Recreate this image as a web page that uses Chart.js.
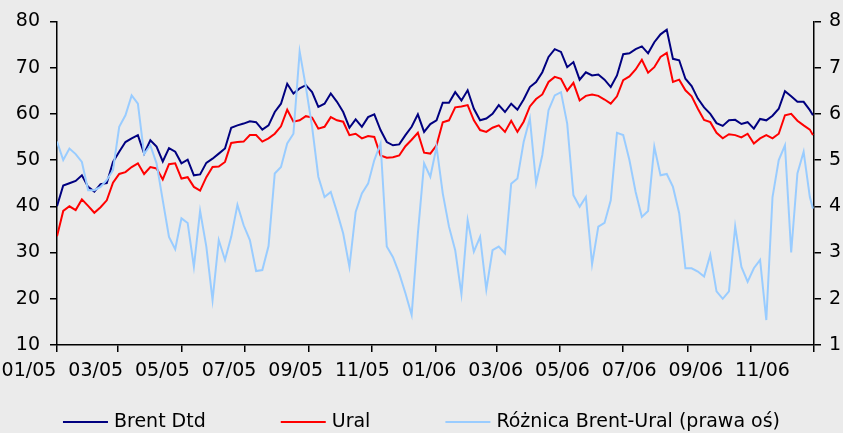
<!DOCTYPE html>
<html lang="pl">
<head>
<meta charset="utf-8">
<title>Brent Dtd / Ural</title>
<script src="https://cdn.jsdelivr.net/npm/chart.js@4.4.1/dist/chart.umd.min.js"></script>
<style>
  html, body { margin: 0; padding: 0; background: #ebebeb; }
  #wrap { width: 843px; height: 433px; position: relative; }
</style>
</head>
<body>
<div id="wrap"><canvas id="chart"></canvas></div>
<script>
// dni od 01.01.2005 (co ok. tydzień)
const days = [
  0, 6, 12, 18, 24, 30, 36, 42, 48, 54, 60, 66, 72, 78, 84, 90, 96, 102, 108, 114,
  120, 126, 132, 138, 144, 150, 156, 162, 168, 174, 180, 186, 192, 198, 204, 210, 216, 222, 228, 234,
  240, 246, 252, 258, 264, 270, 276, 282, 288, 294, 300, 306, 312, 318, 324, 330, 336, 342, 348, 354,
  360, 366, 372, 378, 384, 390, 396, 402, 408, 414, 420, 426, 432, 438, 444, 450, 456, 462, 468, 474,
  480, 486, 492, 498, 504, 510, 516, 522, 528, 534, 540, 546, 552, 558, 564, 570, 576, 582, 588, 594,
  600, 606, 612, 618, 624, 630, 636, 642, 648, 654, 660, 666, 672, 678, 684, 690, 696, 702, 708, 714,
  720, 726, 729
];

// USD/bbl
const brent = [
  40, 44.5, 45, 45.5, 46.7, 44.2, 43.2, 44.8, 45, 49.6, 51.8, 53.9, 54.7, 55.4, 51.4, 54.3, 52.9, 49.7, 52.6, 51.8,
  49.3, 50.1, 46.7, 46.9, 49.4, 50.3, 51.4, 52.5, 57, 57.5, 57.9, 58.4, 58.2, 56.6, 57.5, 60.4, 62.2, 66.5, 64.4, 65.5,
  66.2, 64.7, 61.5, 62.2, 64.4, 62.6, 60.4, 57, 58.8, 57.2, 59.3, 59.9, 56.5, 53.9, 53.2, 53.4, 55.4, 57.2, 59.9, 56.1,
  57.8, 58.6, 62.4, 62.4, 64.7, 62.9, 65.1, 61.1, 58.6, 59, 60, 61.9, 60.4, 62.2, 60.9, 63.1, 65.8, 66.9, 69, 72.3,
  74, 73.4, 70.1, 71.2, 67.4, 69, 68.3, 68.5, 67.4, 65.8, 68.3, 72.9, 73.1, 74, 74.6, 73.1, 75.5, 77.2, 78.2, 71.9,
  71.6, 67.6, 66, 63.3, 61.4, 60, 58, 57.4, 58.6, 58.7, 57.8, 58.2, 56.8, 58.9, 58.6, 59.6, 61.1, 64.9, 63.8, 62.6,
  62.6, 60.8, 59.7
];

const ural = [
  33.5, 39, 40, 39.2, 41.5, 40.1, 38.6, 39.8, 41.3, 45.1, 47, 47.4, 48.5, 49.3, 47, 48.5, 48.2, 45.8, 49.1, 49.3,
  46, 46.3, 44.2, 43.4, 46.3, 48.5, 48.6, 49.6, 53.7, 53.9, 54, 55.4, 55.4, 54, 54.7, 55.7, 57.3, 60.9, 58.3, 58.6,
  59.5, 59.2, 56.8, 57.2, 59.3, 58.6, 58.3, 55.4, 55.7, 54.7, 55.2, 55, 51, 50.5, 50.6, 51, 53, 54.4, 55.9, 51.6,
  51.4, 53.2, 58.2, 58.6, 61.4, 61.6, 61.9, 58.6, 56.5, 56.1, 57, 57.5, 56.1, 58.5, 56.1, 58.3, 61.6, 63.2, 64.2, 66.9,
  68, 67.6, 65, 66.7, 62.9, 63.9, 64.2, 63.9, 63.1, 62.2, 63.8, 67.3, 68.1, 69.6, 71.7, 68.9, 70.1, 72.3, 73.2, 66.9,
  67.4, 65.1, 63.8, 61.1, 58.7, 58.2, 55.9, 54.7, 55.6, 55.4, 54.9, 55.7, 53.6, 54.7, 55.4, 54.7, 55.7, 59.7, 60, 58.5,
  57.5, 56.6, 55.4
];

// różnica Brent-Ural, prawa oś
const spread = [
  5.4, 5.0, 5.25, 5.13, 4.96, 4.35, 4.35, 4.42, 4.57, 4.78, 5.72, 5.97, 6.4, 6.22, 5.13, 5.32, 4.93, 4.13, 3.34, 3.07,
  3.74, 3.64, 2.69, 3.9, 3.13, 1.97, 3.27, 2.84, 3.34, 4.03, 3.59, 3.27, 2.6, 2.62, 3.14, 4.71, 4.85, 5.36, 5.57, 7.35,
  6.58, 5.72, 4.64, 4.2, 4.31, 3.88, 3.41, 2.69, 3.88, 4.28, 4.49, 5.0, 5.36, 3.13, 2.9, 2.55, 2.12, 1.65, 3.41, 4.93,
  4.64, 5.29, 4.28, 3.56, 3.05, 2.1, 3.7, 3.02, 3.34, 2.2, 3.05, 3.13, 2.98, 4.49, 4.6, 5.39, 5.9, 4.5, 5.11, 6.08,
  6.4, 6.47, 5.79, 4.24, 3.99, 4.2, 2.75, 3.56, 3.64, 4.13, 5.59, 5.54, 5.0, 4.31, 3.77, 3.9, 5.29, 4.67, 4.7, 4.42,
  3.85, 2.66, 2.66, 2.59, 2.48, 2.95, 2.16, 2.0, 2.16, 3.56, 2.69, 2.37, 2.66, 2.84, 1.54, 4.2, 5.0, 5.32, 3.0, 4.71,
  5.18, 4.2, 3.95
];

// początki co drugiego miesiąca (dni od 01.01.2005) i opisy osi
const monthTicks = [0, 59, 120, 181, 243, 304, 365, 424, 485, 546, 608, 669, 730];
const tickLabels = ['01/05', '03/05', '05/05', '07/05', '09/05', '11/05',
                    '01/06', '03/06', '05/06', '07/06', '09/06', '11/06'];
const labelStep = 64.3;

const seriesNames = ['Brent Dtd', 'Ural', 'Różnica Brent-Ural (prawa oś)'];
const seriesColors = ['#000080', '#ff0000', '#99ccff'];

const toPoints = vals => vals.map((v, i) => ({ x: days[i], y: v }));

Chart.defaults.font.family = "'DejaVu Sans', Verdana, sans-serif";
Chart.defaults.font.size = 19;
Chart.defaults.color = '#000000';

// legenda rysowana ręcznie (duże odstępy jak w Excelu)
const bottomLegend = {
  id: 'bottomLegend',
  afterDraw(chart) {
    const ctx = chart.ctx;
    const lineLen = 45, gap = 6, spacing = 75, y = 422;
    ctx.save();
    ctx.font = "19px 'DejaVu Sans'";
    const widths = chart.data.datasets.map(ds => lineLen + gap + ctx.measureText(ds.label).width);
    const total = widths.reduce((a, b) => a + b, 0) + spacing * (widths.length - 1);
    let x = (chart.width - total) / 2;
    chart.data.datasets.forEach((ds, i) => {
      ctx.strokeStyle = ds.borderColor;
      ctx.lineWidth = 2;
      ctx.beginPath();
      ctx.moveTo(x, y);
      ctx.lineTo(x + lineLen, y);
      ctx.stroke();
      ctx.fillStyle = '#000';
      ctx.textBaseline = 'middle';
      ctx.textAlign = 'left';
      ctx.fillText(ds.label, x + lineLen + gap, y);
      x += widths[i] + spacing;
    });
    ctx.restore();
  }
};

new Chart(document.getElementById('chart'), {
  type: 'line',
  data: {
    datasets: [
      { label: seriesNames[0], data: toPoints(brent), borderColor: seriesColors[0], yAxisID: 'y', order: 2 },
      { label: seriesNames[1], data: toPoints(ural), borderColor: seriesColors[1], yAxisID: 'y', order: 1 },
      { label: seriesNames[2], data: toPoints(spread), borderColor: seriesColors[2], yAxisID: 'y1', order: 0 }
    ]
  },
  options: {
    responsive: true,
    maintainAspectRatio: false,
    animation: false,
    layout: { padding: { top: 21, bottom: 51, left: 0, right: 0 } },
    elements: {
      line: { borderWidth: 2, tension: 0 },
      point: { radius: 0 }
    },
    plugins: {
      legend: { display: false },
      tooltip: { enabled: false }
    },
    scales: {
      x: {
        type: 'linear',
        min: 0,
        max: 730,
        afterBuildTicks: axis => { axis.ticks = monthTicks.map(v => ({ value: v })); },
        afterFit: axis => { axis.height = 7; },
        ticks: { display: false },
        grid: { drawOnChartArea: false, tickLength: 7, color: '#000', lineWidth: 1.5 },
        border: { color: '#000', width: 1.5 }
      },
      xl: {
        type: 'linear',
        position: 'bottom',
        min: 0,
        max: 730,
        afterBuildTicks: axis => { axis.ticks = tickLabels.map((t, i) => ({ value: i * labelStep })); },
        afterFit: axis => { axis.height = 30; },
        ticks: {
          autoSkip: false,
          maxRotation: 0,
          padding: 0,
          labelOffset: -28,
          callback: (v, i) => tickLabels[i]
        },
        grid: { display: false },
        border: { display: false }
      },
      y: {
        position: 'left',
        min: 10,
        max: 80,
        afterFit: axis => { axis.width = 57; },
        ticks: { stepSize: 10, padding: 10 },
        grid: { drawOnChartArea: false, tickLength: 7, color: '#000', lineWidth: 1.5 },
        border: { color: '#000', width: 1.5 }
      },
      y1: {
        position: 'right',
        min: 1,
        max: 8,
        afterFit: axis => { axis.width = 29; },
        ticks: { stepSize: 1, padding: 8 },
        grid: { drawOnChartArea: false, tickLength: 7, color: '#000', lineWidth: 1.5 },
        border: { color: '#000', width: 1.5 }
      }
    }
  },
  plugins: [bottomLegend]
});
</script>
</body>
</html>
